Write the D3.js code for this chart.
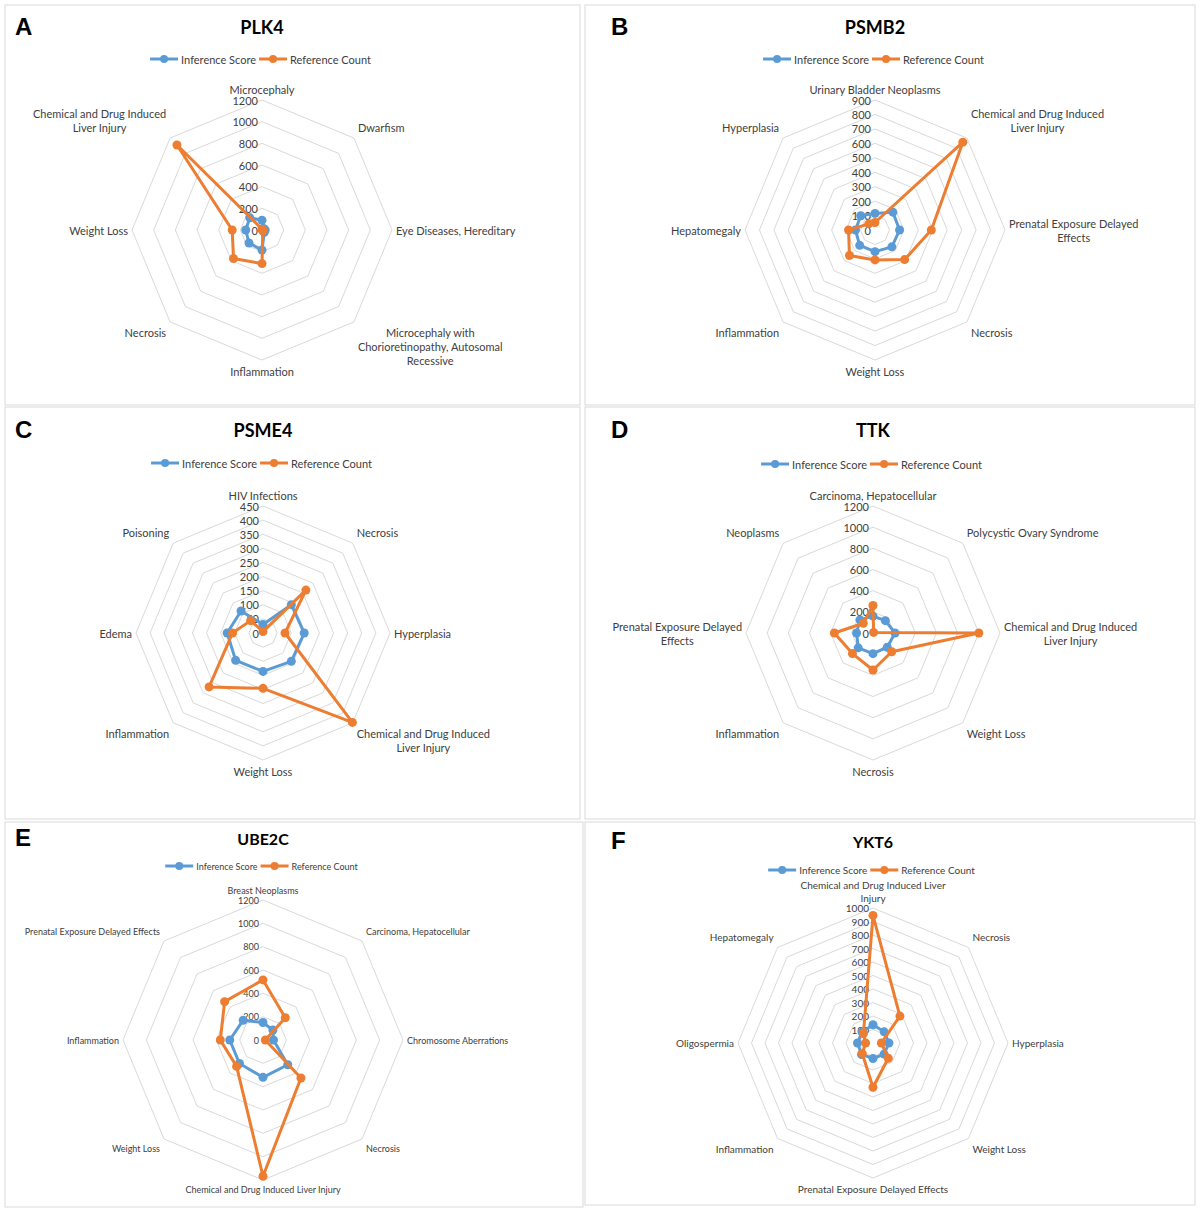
<!DOCTYPE html>
<html lang="en">
<head>
<meta charset="UTF-8">
<title>Radar charts</title>
<style>
  body { margin: 0; background: #fff; }
  svg { font-family: Lato, "Open Sans", sans-serif; }
  .panel-box { fill: #fff; stroke: #d9d9d9; stroke-width: 1; }
  .ring { fill: none; stroke: #d9d9d9; stroke-width: 1; }
  .tick { fill: #404040; }
  .cat { fill: #404040; }
  .title { font-weight: bold; fill: #000; }
  .letter { font-family: "Liberation Sans", Arial, sans-serif; font-weight: bold; fill: #000; }
  .legend-text { fill: #404040; }
</style>
</head>
<body>
<svg id="chart"></svg>
<script src="https://d3js.org/d3.v7.min.js"></script>
<script>
// A - PLK4
var plk4Categories = ['Microcephaly', 'Dwarfism', 'Eye Diseases, Hereditary',
    'Microcephaly with\nChorioretinopathy, Autosomal\nRecessive', 'Inflammation', 'Necrosis',
    'Weight Loss', 'Chemical and Drug Induced\nLiver Injury']
var plk4Inference = [90, 20, 30, 30, 185, 170, 150, 160]
var plk4Reference = [8, 5, 5, 10, 310, 372, 275, 1110]
var plk4Ticks = [0, 200, 400, 600, 800, 1000, 1200]

// B - PSMB2
var psmb2Categories = ['Urinary Bladder Neoplasms', 'Chemical and Drug Induced\nLiver Injury',
    'Prenatal Exposure Delayed\nEffects', 'Necrosis', 'Weight Loss', 'Inflammation',
    'Hepatomegaly', 'Hyperplasia']
var psmb2Inference = [115, 175, 170, 165, 150, 150, 135, 140]
var psmb2Reference = [52, 860, 390, 290, 207, 250, 183, 60]
var psmb2Ticks = [0, 100, 200, 300, 400, 500, 600, 700, 800, 900]

// C - PSME4
var psme4Categories = ['HIV Infections', 'Necrosis', 'Hyperplasia',
    'Chemical and Drug Induced\nLiver Injury', 'Weight Loss', 'Inflammation', 'Edema', 'Poisoning']
var psme4Inference = [30, 142, 146, 142, 136, 137, 127, 110]
var psme4Reference = [5, 215, 78, 448, 196, 270, 108, 62]
var psme4Ticks = [0, 50, 100, 150, 200, 250, 300, 350, 400, 450]

// D - TTK
var ttkCategories = ['Carcinoma, Hepatocellular', 'Polycystic Ovary Syndrome',
    'Chemical and Drug Induced\nLiver Injury', 'Weight Loss', 'Necrosis', 'Inflammation',
    'Prenatal Exposure Delayed\nEffects', 'Neoplasms']
var ttkInference = [160, 165, 208, 190, 195, 198, 155, 175]
var ttkReference = [260, 8, 1000, 250, 350, 275, 365, 130]
var ttkTicks = [0, 200, 400, 600, 800, 1000, 1200]

// E - UBE2C
var ube2cCategories = ['Breast Neoplasms', 'Carcinoma, Hepatocellular', 'Chromosome Aberrations',
    'Necrosis', 'Chemical and Drug Induced Liver Injury', 'Weight Loss', 'Inflammation',
    'Prenatal Exposure Delayed Effects']
var ube2cInference = [150, 120, 90, 300, 320, 285, 285, 240]
var ube2cReference = [515, 270, 20, 460, 1168, 320, 366, 465]
var ube2cTicks = [0, 200, 400, 600, 800, 1000, 1200]

// F - YKT6
var ykt6Categories = ['Chemical and Drug Induced Liver\nInjury', 'Necrosis', 'Hyperplasia',
    'Weight Loss', 'Prenatal Exposure Delayed Effects', 'Inflammation', 'Oligospermia', 'Hepatomegaly']
var ykt6Inference = [135, 117, 118, 116, 115, 120, 115, 115]
var ykt6Reference = [945, 282, 62, 160, 328, 112, 55, 100]
var ykt6Ticks = [0, 100, 200, 300, 400, 500, 600, 700, 800, 900, 1000]

var seriesNames = ['Inference Score', 'Reference Count']
var colors = ['#5B9BD5', '#ED7D31']

var panels = [
    {letter: 'A', title: 'PLK4', cats: plk4Categories, series: [plk4Inference, plk4Reference], ticks: plk4Ticks,
        box: [5, 5, 575, 400], letterX: 15, cx: 262, cy: 230, r: 130, titleY: 27, legendY: 59, font: 11, lh: 14, titleFont: 18, legendFont: 11},
    {letter: 'B', title: 'PSMB2', cats: psmb2Categories, series: [psmb2Inference, psmb2Reference], ticks: psmb2Ticks,
        box: [585, 5, 610, 400], letterX: 611, cx: 875, cy: 230, r: 130, titleY: 27, legendY: 59, font: 11, lh: 14, titleFont: 18, legendFont: 11},
    {letter: 'C', title: 'PSME4', cats: psme4Categories, series: [psme4Inference, psme4Reference], ticks: psme4Ticks,
        box: [5, 407, 575, 412], letterX: 15, cx: 263, cy: 633, r: 127, titleY: 430, legendY: 463, font: 11, lh: 14, titleFont: 18, legendFont: 11},
    {letter: 'D', title: 'TTK', cats: ttkCategories, series: [ttkInference, ttkReference], ticks: ttkTicks,
        box: [585, 407, 610, 412], letterX: 611, cx: 873, cy: 633, r: 127, titleY: 430, legendY: 464, font: 11, lh: 14, titleFont: 18, legendFont: 11},
    {letter: 'E', title: 'UBE2C', cats: ube2cCategories, series: [ube2cInference, ube2cReference], ticks: ube2cTicks,
        box: [5, 822, 578, 385], letterX: 15, cx: 263, cy: 1040, r: 140, titleY: 838, legendY: 866, font: 9, lh: 11, titleFont: 16, legendFont: 9},
    {letter: 'F', title: 'YKT6', cats: ykt6Categories, series: [ykt6Inference, ykt6Reference], ticks: ykt6Ticks,
        box: [585, 822, 610, 383], letterX: 611, cx: 873, cy: 1043, r: 135, titleY: 841, legendY: 870, font: 10, lh: 13, titleFont: 16, legendFont: 10}
]

var svg = d3.select('#chart').attr('width', 1200).attr('height', 1213)

panels.forEach(function (p) {
    var g = svg.append('g')
    var n = p.cats.length
    var maxV = d3.max(p.ticks)
    var rScale = d3.scaleLinear().domain([0, maxV]).range([0, p.r])
    var angle = d3.scaleLinear().domain([0, n]).range([0, 2 * Math.PI])

    g.append('rect').attr('class', 'panel-box')
        .attr('x', p.box[0]).attr('y', p.box[1]).attr('width', p.box[2]).attr('height', p.box[3])

    g.append('text').attr('class', 'letter').attr('x', p.letterX).attr('y', p.titleY + 8)
        .style('font-size', '24px').text(p.letter)

    g.append('text').attr('class', 'title').attr('x', p.cx).attr('y', p.titleY)
        .attr('text-anchor', 'middle').attr('dominant-baseline', 'central')
        .style('font-size', p.titleFont + 'px').text(p.title)

    // legend
    var leg = g.append('g')
    var xPos = 0
    seriesNames.forEach(function (name, i) {
        var item = leg.append('g').attr('transform', 'translate(' + xPos + ',0)')
        item.append('line').attr('x1', 0).attr('x2', 28).attr('y1', 0).attr('y2', 0)
            .attr('stroke', colors[i]).attr('stroke-width', 3)
        item.append('circle').attr('cx', 14).attr('cy', 0).attr('r', 4).attr('fill', colors[i])
        var t = item.append('text').attr('class', 'legend-text').attr('x', 31).attr('y', 0)
            .attr('dominant-baseline', 'central').style('font-size', p.legendFont + 'px').text(name)
        xPos += 31 + t.node().getComputedTextLength() + 3
    })
    leg.attr('transform', 'translate(' + (p.cx - xPos / 2) + ',' + p.legendY + ')')

    // rings
    var ringLine = d3.lineRadial()
        .angle(function (d, i) { return angle(i) })
        .radius(function (d) { return rScale(d) })
        .curve(d3.curveLinearClosed)

    var cg = g.append('g').attr('transform', 'translate(' + p.cx + ',' + p.cy + ')')
    p.ticks.filter(function (v) { return v > 0 }).forEach(function (v) {
        cg.append('path').attr('class', 'ring').attr('d', ringLine(d3.range(n).map(function () { return v })))
    })

    // tick labels
    cg.selectAll('.tick').data(p.ticks).enter().append('text')
        .attr('class', 'tick')
        .attr('x', -4)
        .attr('y', function (d) { return -rScale(d) })
        .attr('text-anchor', 'end')
        .attr('dominant-baseline', 'central')
        .style('font-size', p.font + 'px')
        .text(function (d) { return d })

    // series
    p.series.forEach(function (vals, si) {
        cg.append('path').attr('d', ringLine(vals))
            .attr('fill', 'none').attr('stroke', colors[si]).attr('stroke-width', 3)
            .attr('stroke-linejoin', 'round')
        cg.selectAll('.pt' + si).data(vals).enter().append('circle')
            .attr('cx', function (d, i) { return rScale(d) * Math.sin(angle(i)) })
            .attr('cy', function (d, i) { return -rScale(d) * Math.cos(angle(i)) })
            .attr('r', 4.5)
            .attr('fill', colors[si])
    })

    // category labels
    p.cats.forEach(function (cat, i) {
        var a = angle(i)
        var sx = Math.sin(a), sy = -Math.cos(a)
        var px = p.r * sx, py = p.r * sy
        var lines = cat.split('\n')
        var t = cg.append('text').attr('class', 'cat').attr('text-anchor', 'middle')
            .style('font-size', p.font + 'px')
        var spans = lines.map(function (l) { return t.append('tspan').text(l) })
        var w = d3.max(spans, function (s) { return s.node().getComputedTextLength() })
        var h = lines.length * p.lh
        var gap = 4
        var left, top
        if (Math.abs(sx) < 0.1) left = px - w / 2
        else if (sx > 0) left = px + gap
        else left = px - gap - w
        if (Math.abs(sy) < 0.1) top = py - h / 2
        else if (sy < 0) top = py - gap - h
        else top = py + gap
        spans.forEach(function (s, k) {
            s.attr('x', left + w / 2).attr('y', top + p.lh * (k + 0.5)).attr('dominant-baseline', 'central')
        })
    })
})
</script>
</body>
</html>
